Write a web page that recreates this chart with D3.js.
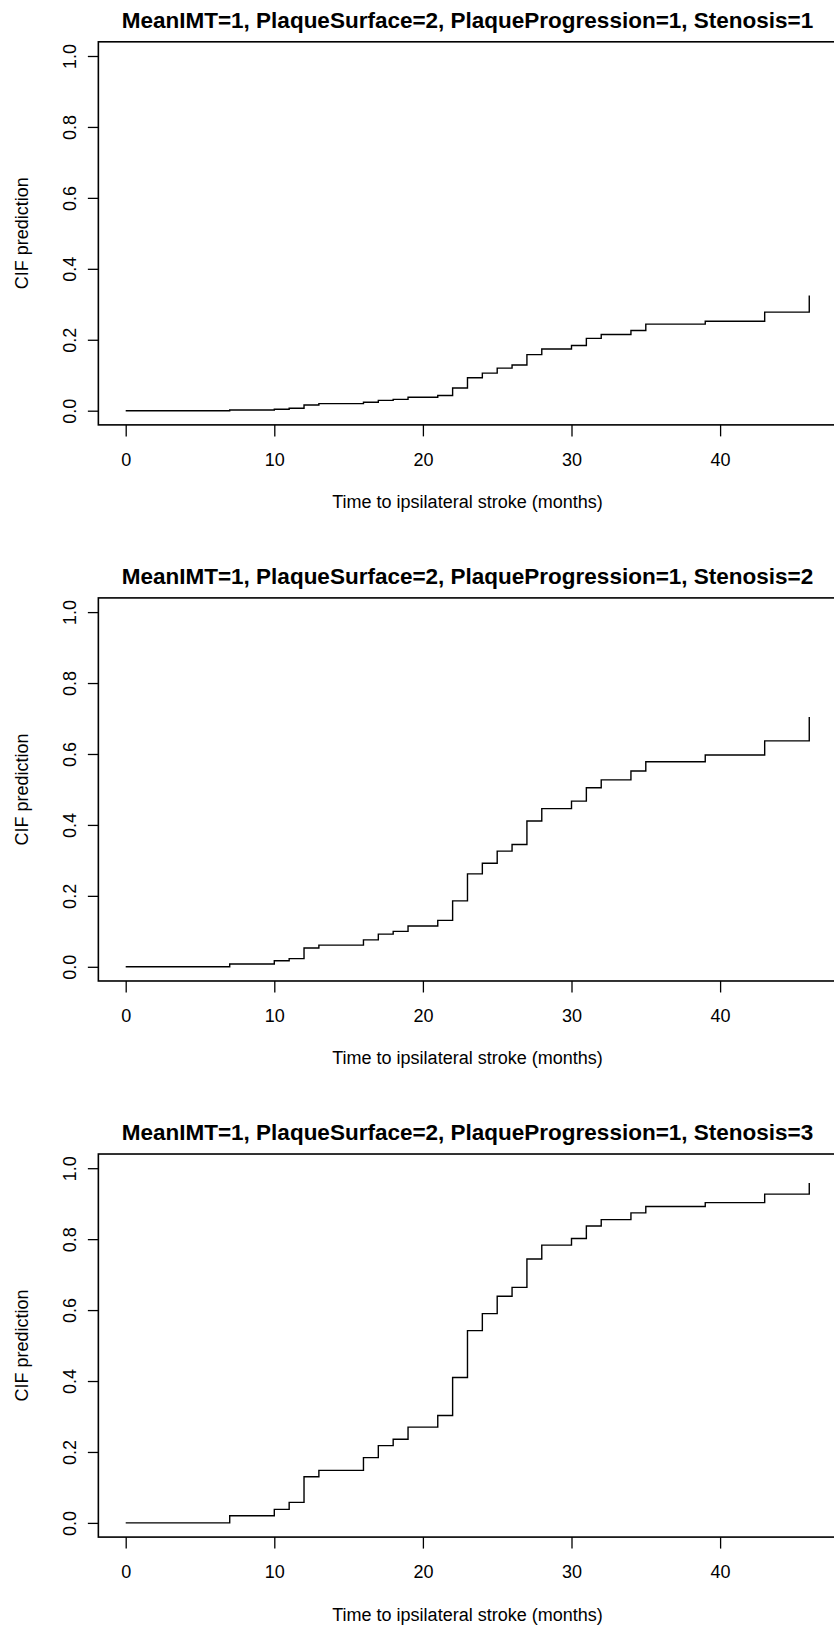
<!DOCTYPE html>
<html>
<head>
<meta charset="utf-8">
<script src="https://cdn.jsdelivr.net/npm/d3@7"></script>
<style>
  html, body { margin: 0; padding: 0; background: #fff; }
  svg text { font-family: "Liberation Sans", Arial, Helvetica, sans-serif; fill: #000; }
</style>
</head>
<body>
<div id="cif_plots"></div>
<script>
// step times (months) shared by all three curves
const times = [0, 7, 10, 11, 12, 13, 16, 17, 18, 19, 21, 22, 23, 24, 25, 26, 27, 28, 30, 31, 32, 34, 35, 39, 43, 46];

// CIF value after each time point, one array per stenosis level
const cifStenosis1 = [0, 0.002, 0.004, 0.007, 0.016, 0.020, 0.024, 0.029, 0.032, 0.038, 0.043, 0.064, 0.093, 0.106, 0.120, 0.129, 0.158, 0.174, 0.184, 0.204, 0.215, 0.226, 0.244, 0.252, 0.278, 0.325];
const cifStenosis2 = [0, 0.008, 0.017, 0.023, 0.053, 0.061, 0.076, 0.092, 0.100, 0.115, 0.131, 0.186, 0.262, 0.292, 0.326, 0.345, 0.411, 0.446, 0.467, 0.505, 0.527, 0.552, 0.578, 0.597, 0.637, 0.704];
const cifStenosis3 = [0, 0.020, 0.038, 0.058, 0.130, 0.148, 0.184, 0.218, 0.236, 0.270, 0.303, 0.410, 0.542, 0.590, 0.639, 0.664, 0.744, 0.783, 0.802, 0.837, 0.855, 0.874, 0.892, 0.903, 0.927, 0.958];

const titles = [
  "MeanIMT=1, PlaqueSurface=2, PlaqueProgression=1, Stenosis=1",
  "MeanIMT=1, PlaqueSurface=2, PlaqueProgression=1, Stenosis=2",
  "MeanIMT=1, PlaqueSurface=2, PlaqueProgression=1, Stenosis=3"
];
const xTicks = [0, 10, 20, 30, 40];
const yTicks = [0, 0.2, 0.4, 0.6, 0.8, 1.0];
const xLabel = "Time to ipsilateral stroke (months)";
const yLabel = "CIF prediction";

const series = [cifStenosis1, cifStenosis2, cifStenosis3];

// page + panel geometry (R-like layout, each panel stacked)
const W = 834, H = 1626;
const panelStep = 556.1;
const y1Top = 56, y0Bottom = 410.7;   // pixel of CIF=1 and CIF=0 in first panel

const svg = d3.select("#cif_plots")
  .append("svg")
    .attr("width", W)
    .attr("height", H);

// x scale: R style 4% padding around 0..46
const xScale = d3.scaleLinear()
  .domain([0, 10])
  .range([125.7, 274.3]);
const xDom = [-1.84, 47.84];

series.forEach((vals, i) => {
  const off = i * panelStep;

  const yScale = d3.scaleLinear()
    .domain([0, 1])
    .range([y0Bottom + off, y1Top + off]);

  const left = xScale(xDom[0]), right = xScale(xDom[1]);
  const top = yScale(1.04), bottom = yScale(-0.04);

  const g = svg.append("g");

  // title
  g.append("text")
    .attr("x", (left + right) / 2)
    .attr("y", top - 14.3)
    .attr("text-anchor", "middle")
    .style("font-weight", "bold")
    .style("font-size", "22.5px")
    .text(titles[i]);

  // x axis
  const xAxis = g.append("g")
    .attr("transform", `translate(0,${bottom})`)
    .call(d3.axisBottom(xScale).tickValues(xTicks).tickSize(11.5).tickFormat(d3.format("d")));
  xAxis.select(".domain").remove();
  xAxis.selectAll("line").attr("stroke", "#000").attr("stroke-width", 1.3);
  xAxis.selectAll("text")
    .attr("y", 40.7).attr("dy", 0)
    .style("font-size", "18px").style("font-family", "Liberation Sans, Arial, sans-serif")
    .attr("fill", "#000");

  // y axis with rotated labels
  const yAxis = g.append("g")
    .attr("transform", `translate(${left},0)`)
    .call(d3.axisLeft(yScale).tickValues(yTicks).tickSize(10.5).tickFormat(d3.format(".1f")));
  yAxis.select(".domain").remove();
  yAxis.selectAll("line").attr("stroke", "#000").attr("stroke-width", 1.3);
  yAxis.selectAll("text")
    .attr("transform", "rotate(-90)")
    .attr("x", 0).attr("y", -22.1).attr("dy", 0)
    .attr("text-anchor", "middle")
    .style("font-size", "18px").style("font-family", "Liberation Sans, Arial, sans-serif")
    .attr("fill", "#000");

  // axis titles
  g.append("text")
    .attr("x", (left + right) / 2)
    .attr("y", bottom + 83.5)
    .attr("text-anchor", "middle")
    .style("font-size", "18px")
    .text(xLabel);

  g.append("text")
    .attr("transform", `translate(28,${(top + bottom) / 2}) rotate(-90)`)
    .attr("text-anchor", "middle")
    .style("font-size", "18px")
    .text(yLabel);

  // step curve
  const pts = times.map((t, k) => [t, vals[k]]);
  const line = d3.line()
    .x(d => xScale(d[0]))
    .y(d => yScale(d[1]))
    .curve(d3.curveStepAfter);

  g.append("path")
    .datum(pts)
    .attr("d", line)
    .attr("fill", "none")
    .attr("stroke", "#000")
    .attr("stroke-width", 1.4);

  // plot box
  g.append("rect")
    .attr("x", left).attr("y", top)
    .attr("width", right - left).attr("height", bottom - top)
    .attr("fill", "none")
    .attr("stroke", "#000")
    .attr("stroke-width", 1.6);
});
</script>
</body>
</html>
